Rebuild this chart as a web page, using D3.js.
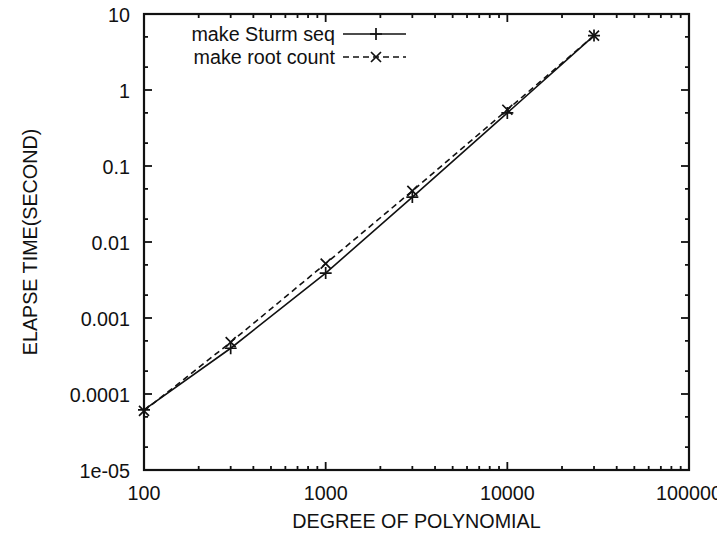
<!DOCTYPE html>
<html>
<head>
<meta charset="utf-8">
<script src="https://cdn.jsdelivr.net/npm/d3@7"></script>
<style>
  html, body { margin: 0; padding: 0; background: #fff; }
  svg { display: block; font-family: "Liberation Sans", Arial, sans-serif; }
</style>
</head>
<body>
<svg id="chart" width="717" height="535"></svg>
<script>
// ---- data ----
const degrees = [100, 300, 1000, 3000, 10000, 30000];
const sturmSeq = [6.2e-5, 4.0e-4, 3.9e-3, 0.039, 0.50, 5.2];
const rootCount = [6.0e-5, 4.8e-4, 5.2e-3, 0.047, 0.55, 5.2];
const seriesNames = ["make Sturm seq", "make root count"];
const xTickValues = [100, 1000, 10000, 100000];
const xTickLabels = ["100", "1000", "10000", "100000"];
const yTickValues = [1e-5, 1e-4, 1e-3, 1e-2, 1e-1, 1, 10];
const yTickLabels = ["1e-05", "0.0001", "0.001", "0.01", "0.1", "1", "10"];
const xTitle = "DEGREE OF POLYNOMIAL";
const yTitle = "ELAPSE TIME(SECOND)";

// ---- layout ----
const L = 144, R = 689, T = 14, B = 470;
const FS = 21, SX = 0.94;
const svg = d3.select("#chart");
const x = d3.scaleLog().domain([100, 100000]).range([L, R]);
const y = d3.scaleLog().domain([1e-5, 10]).range([B, T]);

// text helper: slightly condensed glyphs like the scanned original
function label(px, py, str, anchor, rot) {
  const t = svg.append("g").attr("transform", `translate(${px},${py})` + (rot ? ` rotate(${rot})` : "") + ` scale(${SX},1)`);
  t.append("text").attr("x", 0).attr("y", 0).attr("text-anchor", anchor)
    .attr("font-size", FS).attr("fill", "#111").text(str);
}

// minor ticks
const xMinor = [];
for (let d = 100; d < 100000; d *= 10) for (let k = 2; k <= 9; k++) xMinor.push(d * k);
const yMinor = [];
for (let d = 1e-5; d < 10; d *= 10) for (const k of [2, 5]) yMinor.push(d * k);

const ink = "#111";
const g = svg.append("g");

function tickLines(vals, len, isX) {
  vals.forEach(v => {
    if (isX) {
      const px = x(v);
      g.append("line").attr("x1", px).attr("x2", px).attr("y1", B).attr("y2", B - len).attr("stroke", ink).attr("stroke-width", 1.8);
      g.append("line").attr("x1", px).attr("x2", px).attr("y1", T).attr("y2", T + len).attr("stroke", ink).attr("stroke-width", 1.8);
    } else {
      const py = y(v);
      g.append("line").attr("x1", L).attr("x2", L + len).attr("y1", py).attr("y2", py).attr("stroke", ink).attr("stroke-width", 1.8);
      g.append("line").attr("x1", R).attr("x2", R - len).attr("y1", py).attr("y2", py).attr("stroke", ink).attr("stroke-width", 1.8);
    }
  });
}
tickLines(xMinor, 4, true);
tickLines(xTickValues, 8, true);
tickLines(yMinor, 4, false);
tickLines(yTickValues, 8, false);

// frame
g.append("rect").attr("x", L).attr("y", T).attr("width", R - L).attr("height", B - T)
  .attr("fill", "none").attr("stroke", ink).attr("stroke-width", 2.2);

// tick labels
xTickValues.forEach((v, i) => label(x(v), 500, xTickLabels[i], "middle"));
yTickValues.forEach((v, i) => label(130, y(v) + 8, yTickLabels[i], "end"));

// titles
label((L + R) / 2, 528, xTitle, "middle");
label(37, (T + B) / 2, yTitle, "middle", -90);

// series
const line = d3.line().x(d => x(d[0])).y(d => y(d[1]));
const s1 = degrees.map((d, i) => [d, sturmSeq[i]]);
const s2 = degrees.map((d, i) => [d, rootCount[i]]);

svg.append("path").datum(s1).attr("d", line).attr("fill", "none").attr("stroke", ink).attr("stroke-width", 1.6);
svg.append("path").datum(s2).attr("d", line).attr("fill", "none").attr("stroke", ink).attr("stroke-width", 1.6)
  .attr("stroke-dasharray", "6,4");

function plus(cx, cy, s) {
  svg.append("path").attr("d", `M${cx - s},${cy}H${cx + s}M${cx},${cy - s}V${cy + s}`)
    .attr("stroke", ink).attr("stroke-width", 1.7);
}
function cross(cx, cy, s) {
  svg.append("path").attr("d", `M${cx - s},${cy - s}L${cx + s},${cy + s}M${cx - s},${cy + s}L${cx + s},${cy - s}`)
    .attr("stroke", ink).attr("stroke-width", 1.7);
}
s1.forEach(d => plus(x(d[0]), y(d[1]), 6));
s2.forEach(d => cross(x(d[0]), y(d[1]), 5));

// legend
const legY = [34, 57];
label(335, legY[0] + 7, seriesNames[0], "end");
label(335, legY[1] + 7, seriesNames[1], "end");
svg.append("line").attr("x1", 343).attr("x2", 406).attr("y1", legY[0]).attr("y2", legY[0])
  .attr("stroke", ink).attr("stroke-width", 1.5);
plus(376, legY[0], 6);
svg.append("line").attr("x1", 343).attr("x2", 406).attr("y1", legY[1]).attr("y2", legY[1])
  .attr("stroke", ink).attr("stroke-width", 1.5).attr("stroke-dasharray", "6,4");
cross(376, legY[1], 5);
</script>
</body>
</html>
